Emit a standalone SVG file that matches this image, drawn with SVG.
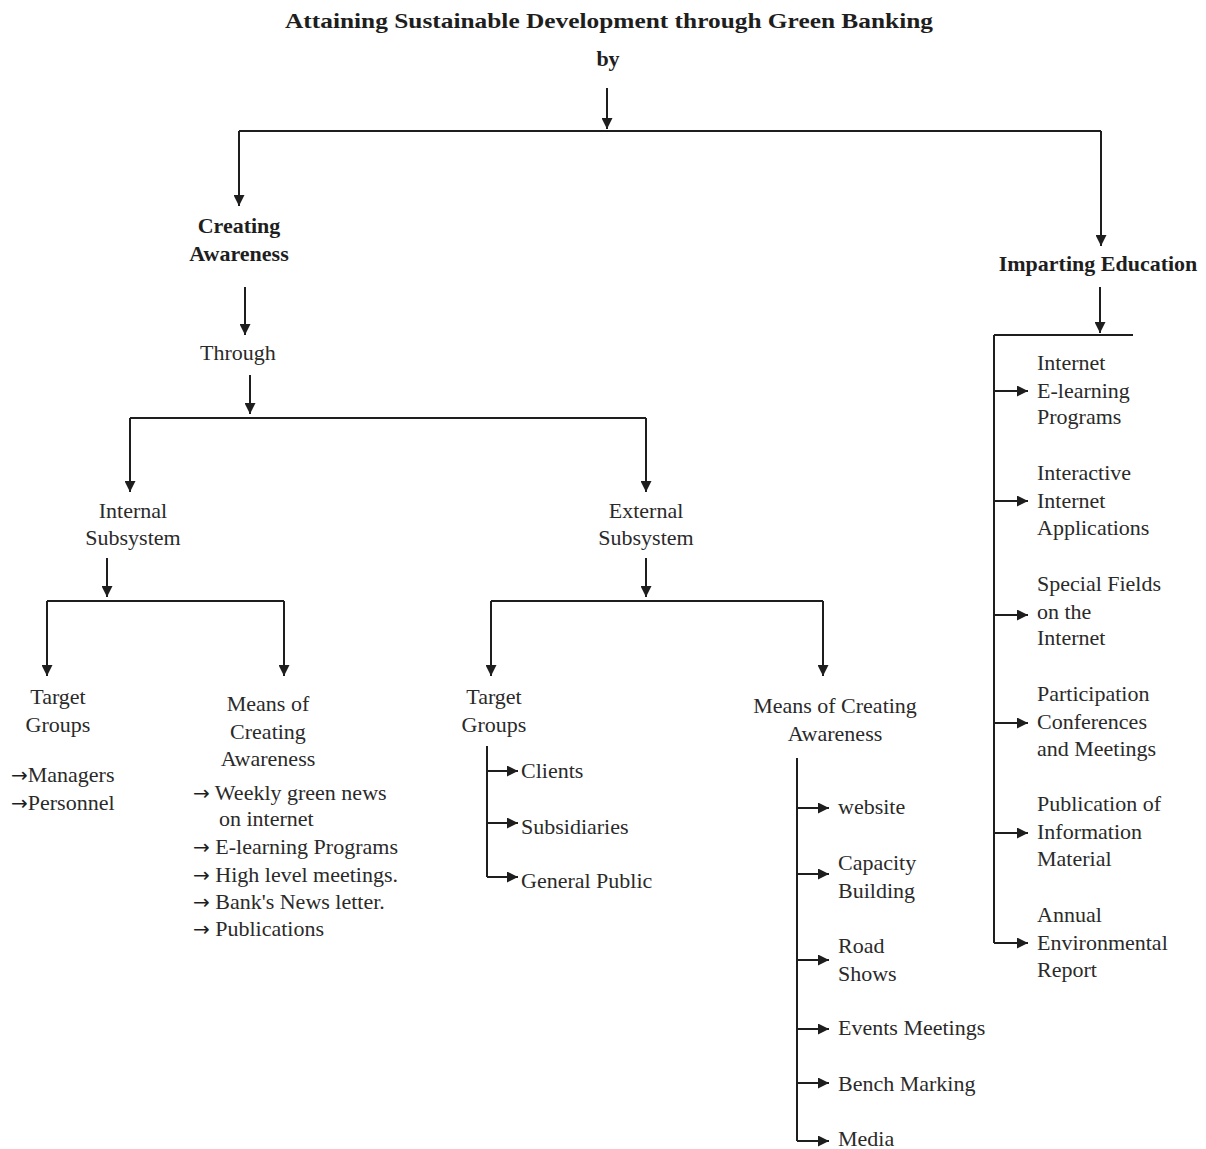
<svg xmlns="http://www.w3.org/2000/svg" width="1206" height="1149" viewBox="0 0 1206 1149">
<style>
text{font-family:"Liberation Serif","Times New Roman",serif;fill:#2a2a2a;font-size:22px}
.b{font-weight:bold;fill:#1e1e1e}
.c{text-anchor:middle}
.a{font-family:"DejaVu Sans",sans-serif;font-size:20px;fill:#1e1e1e}
.ln{stroke:#1e1e1e;stroke-width:2;fill:none}
.ar{stroke:#1e1e1e;stroke-width:2;fill:none;marker-end:url(#ah)}
</style>
<defs>
<marker id="ah" viewBox="0 0 10 10" refX="10" refY="5" markerWidth="11" markerHeight="11" markerUnits="userSpaceOnUse" orient="auto">
<path d="M0,0 L10,5 L0,10 Z" fill="#1e1e1e"/>
</marker>
</defs>
<rect width="1206" height="1149" fill="#fff"/>
<g id="title">
<text class="b c" x="609" y="28" font-size="24.5" textLength="648" lengthAdjust="spacingAndGlyphs">Attaining Sustainable Development through Green Banking</text>
<text class="b c" x="608" y="66" font-size="23">by</text>
</g>
<g id="connectors">
<path class="ar" d="M607,88 V129"/>
<path class="ln" d="M239,131 H1101"/>
<path class="ar" d="M239,131 V206"/>
<path class="ar" d="M1101,131 V246"/>
<path class="ar" d="M245,287 V335"/>
<path class="ar" d="M250,375 V414"/>
<path class="ln" d="M130,418 H646"/>
<path class="ar" d="M130,418 V492"/>
<path class="ar" d="M646,418 V492"/>
<path class="ar" d="M107,558 V597"/>
<path class="ln" d="M47,601 H284"/>
<path class="ar" d="M47,601 V676"/>
<path class="ar" d="M284,601 V676"/>
<path class="ar" d="M646,558 V597"/>
<path class="ln" d="M491,601 H823"/>
<path class="ar" d="M491,601 V676"/>
<path class="ar" d="M823,601 V676"/>
<path class="ln" d="M487,746 V877"/>
<path class="ar" d="M487,771 H518"/>
<path class="ar" d="M487,823 H518"/>
<path class="ar" d="M487,877 H518"/>
<path class="ln" d="M797,758 V1141"/>
<path class="ar" d="M797,808 H829"/>
<path class="ar" d="M797,874 H829"/>
<path class="ar" d="M797,960 H829"/>
<path class="ar" d="M797,1029 H829"/>
<path class="ar" d="M797,1083 H829"/>
<path class="ar" d="M797,1141 H829"/>
<path class="ar" d="M1100,287 V333"/>
<path class="ln" d="M994,335 H1133"/>
<path class="ln" d="M994,335 V943"/>
<path class="ar" d="M994,391 H1028"/>
<path class="ar" d="M994,501 H1028"/>
<path class="ar" d="M994,615 H1028"/>
<path class="ar" d="M994,723 H1028"/>
<path class="ar" d="M994,833 H1028"/>
<path class="ar" d="M994,943 H1028"/>
</g>
<g id="creating-awareness">
<text class="b c" x="239" y="233">Creating</text>
<text class="b c" x="239" y="261">Awareness</text>
</g>
<g id="through"><text class="c" x="238" y="360">Through</text></g>
<g id="internal-subsystem">
<text class="c" x="133" y="518">Internal</text>
<text class="c" x="133" y="545">Subsystem</text>
</g>
<g id="external-subsystem">
<text class="c" x="646" y="518">External</text>
<text class="c" x="646" y="545">Subsystem</text>
</g>
<g id="internal-target-groups">
<text class="c" x="58" y="704">Target</text>
<text class="c" x="58" y="732">Groups</text>
<text x="11" y="782"><tspan class="a">→</tspan>Managers</text>
<text x="11" y="810"><tspan class="a">→</tspan>Personnel</text>
</g>
<g id="internal-means">
<text class="c" x="268" y="711">Means of</text>
<text class="c" x="268" y="739">Creating</text>
<text class="c" x="268" y="766">Awareness</text>
<text x="193" y="800"><tspan class="a">→</tspan> Weekly green news</text>
<text x="219" y="826">on internet</text>
<text x="193" y="854"><tspan class="a">→</tspan> E-learning Programs</text>
<text x="193" y="882"><tspan class="a">→</tspan> High level meetings.</text>
<text x="193" y="909"><tspan class="a">→</tspan> Bank's News letter.</text>
<text x="193" y="936"><tspan class="a">→</tspan> Publications</text>
</g>
<g id="external-target-groups">
<text class="c" x="494" y="704">Target</text>
<text class="c" x="494" y="732">Groups</text>
<text x="521" y="778">Clients</text>
<text x="521" y="834">Subsidiaries</text>
<text x="521" y="888">General Public</text>
</g>
<g id="external-means">
<text class="c" x="835" y="713">Means of Creating</text>
<text class="c" x="835" y="741">Awareness</text>
<text x="838" y="814">website</text>
<text x="838" y="870">Capacity</text>
<text x="838" y="898">Building</text>
<text x="838" y="953">Road</text>
<text x="838" y="981">Shows</text>
<text x="838" y="1035">Events Meetings</text>
<text x="838" y="1091">Bench Marking</text>
<text x="838" y="1146">Media</text>
</g>
<g id="imparting-education">
<text class="b c" x="1098" y="271">Imparting Education</text>
<text x="1037" y="370">Internet</text>
<text x="1037" y="398">E-learning</text>
<text x="1037" y="424">Programs</text>
<text x="1037" y="480">Interactive</text>
<text x="1037" y="508">Internet</text>
<text x="1037" y="535">Applications</text>
<text x="1037" y="591">Special Fields</text>
<text x="1037" y="619">on the</text>
<text x="1037" y="645">Internet</text>
<text x="1037" y="701">Participation</text>
<text x="1037" y="729">Conferences</text>
<text x="1037" y="756">and Meetings</text>
<text x="1037" y="811">Publication of</text>
<text x="1037" y="839">Information</text>
<text x="1037" y="866">Material</text>
<text x="1037" y="922">Annual</text>
<text x="1037" y="950">Environmental</text>
<text x="1037" y="977">Report</text>
</g>
</svg>
